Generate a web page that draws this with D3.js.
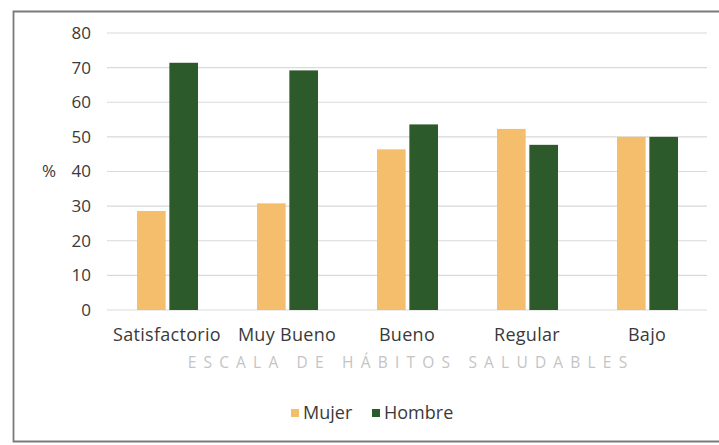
<!DOCTYPE html>
<html>
<head>
<meta charset="utf-8">
<script src="https://cdn.jsdelivr.net/npm/d3@7"></script>
<style>
  body { margin: 0; background: #fff; }
  svg { display: block; font-family: "Open Sans", sans-serif; }
</style>
</head>
<body>
<svg id="chart" width="719" height="445"></svg>
<script>
const categories = ["Satisfactorio", "Muy Bueno", "Bueno", "Regular", "Bajo"];
const series = ["Mujer", "Hombre"];
const mujer = [28.6, 30.8, 46.4, 52.3, 50.0];
const hombre = [71.4, 69.2, 53.6, 47.7, 50.0];
const yTicks = [0, 10, 20, 30, 40, 50, 60, 70, 80];

const COLORS = { Mujer: "#F4BE6C", Hombre: "#2D5A2A" };
const TEXT = "#3a3a3a";
const FONT = "'Open Sans', sans-serif";

const svg = d3.select("#chart");

// frame around the chart (right side is cut off in the reference)
svg.append("path")
  .attr("d", "M719,11.5 H13.5 V441.5 H719")
  .attr("fill", "none")
  .attr("stroke", "#7a7a7a")
  .attr("stroke-width", 1.8);

const x0 = d3.scaleBand().domain(categories).range([107, 707]);
const x1 = d3.scaleBand().domain(series).range([30, 91]).paddingInner(0.115);
const y = d3.scaleLinear().domain([0, 80]).range([310, 33]);

// gridlines
svg.append("g")
  .selectAll("line")
  .data(yTicks)
  .join("line")
  .attr("x1", 107).attr("x2", 707)
  .attr("y1", (d) => y(d)).attr("y2", (d) => y(d))
  .attr("stroke", "#d9d9d9")
  .attr("stroke-width", 1.2);

// y axis labels
const yAxis = svg.append("g")
  .attr("transform", "translate(91,0)")
  .call(d3.axisLeft(y).tickValues(yTicks).tickSize(0).tickPadding(0));
yAxis.select(".domain").remove();
yAxis.selectAll("text")
  .attr("fill", TEXT)
  .style("font-size", "17px")
  .style("font-family", FONT);

svg.append("text")
  .attr("x", 49).attr("y", y(40))
  .attr("dy", "0.35em")
  .attr("text-anchor", "middle")
  .attr("fill", TEXT)
  .style("font-size", "17px")
  .text("%");

// bars
const rows = categories.map((c, i) => ({ cat: c, Mujer: mujer[i], Hombre: hombre[i] }));
svg.append("g")
  .selectAll("g")
  .data(rows)
  .join("g")
  .attr("transform", (d) => `translate(${x0(d.cat)},0)`)
  .selectAll("rect")
  .data((d) => series.map((s) => ({ s, v: d[s] })))
  .join("rect")
  .attr("x", (d) => x1(d.s))
  .attr("width", x1.bandwidth())
  .attr("y", (d) => y(d.v))
  .attr("height", (d) => y(0) - y(d.v))
  .attr("fill", (d) => COLORS[d.s]);

// x axis labels
const xAxis = svg.append("g")
  .attr("transform", "translate(0,335)")
  .call(d3.axisBottom(x0).tickSize(0).tickPadding(0));
xAxis.select(".domain").remove();
xAxis.selectAll("text")
  .attr("dy", "0.35em")
  .attr("fill", TEXT)
  .style("font-size", "18px")
  .style("letter-spacing", "0.3px")
  .style("font-family", FONT);

// axis title
svg.append("text")
  .attr("x", 411).attr("y", 363)
  .attr("dy", "0.35em")
  .attr("text-anchor", "middle")
  .attr("fill", "#c4c4c4")
  .style("font-size", "15.5px")
  .style("letter-spacing", "7.2px")
  .text("ESCALA DE HÁBITOS SALUDABLES");

// legend
const legendX = [291, 372];
const legend = svg.append("g")
  .selectAll("g")
  .data(series)
  .join("g")
  .attr("transform", (d, i) => `translate(${legendX[i]},413)`);
legend.append("rect")
  .attr("x", 0).attr("y", -4)
  .attr("width", 8).attr("height", 8)
  .attr("fill", (d) => COLORS[d]);
legend.append("text")
  .attr("x", 12).attr("dy", "0.35em")
  .attr("fill", TEXT)
  .style("font-size", "18px")
  .text((d) => d);
</script>
</body>
</html>
